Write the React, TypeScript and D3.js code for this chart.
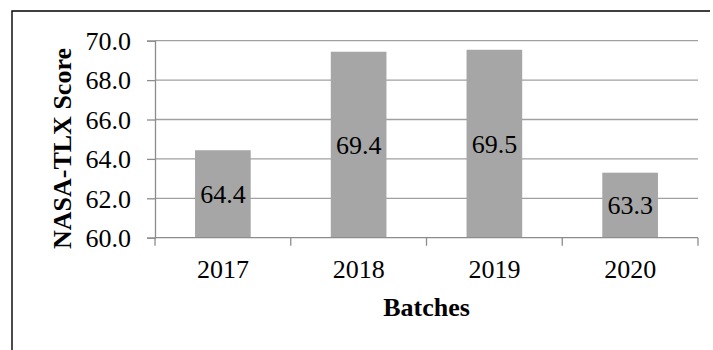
import React, { useEffect, useRef } from "react";
import * as d3 from "d3";

const categories = ["2017", "2018", "2019", "2020"];
const values = [64.44, 69.44, 69.54, 63.3];
const yTicks = [60, 62, 64, 66, 68, 70];
const yTitle = "NASA-TLX Score";
const xTitle = "Batches";

const W = 713;
const H = 350;
const FONT = "'Liberation Serif', 'Times New Roman', serif";

export default function App() {
  const ref = useRef<SVGSVGElement>(null);

  useEffect(() => {
    const svg = d3.select(ref.current);
    svg.selectAll("*").remove();

    const left = 155, right = 698, top = 40.7, bottom = 237.7;

    const x = d3.scaleBand<string>().domain(categories).range([left, right]).paddingInner(0.59).paddingOuter(0.295);
    const y = d3.scaleLinear().domain([60, 70]).range([bottom, top]);

    // outer frame (top and left edges)
    svg.append("path")
      .attr("d", `M12,350 L12,11 L710,11`)
      .attr("fill", "none")
      .attr("stroke", "#000")
      .attr("stroke-width", 1.4);

    // gridlines
    svg.append("g").selectAll("line")
      .data(yTicks.filter(t => t !== 60))
      .join("line")
      .attr("x1", left).attr("x2", right)
      .attr("y1", d => y(d)).attr("y2", d => y(d))
      .attr("stroke", "#a0a0a0").attr("stroke-width", 1.3);

    // bars
    svg.append("g").selectAll("rect")
      .data(values)
      .join("rect")
      .attr("x", (_, i) => x(categories[i])!)
      .attr("width", x.bandwidth())
      .attr("y", d => y(d))
      .attr("height", d => y(60) - y(d))
      .attr("fill", "#a6a6a6");

    // y axis
    const yAxis = d3.axisLeft(y).tickValues(yTicks).tickSize(8).tickPadding(16).tickFormat(d => (d as number).toFixed(1));
    const gy = svg.append("g").attr("transform", `translate(${left},0)`).call(yAxis);
    gy.attr("font-family", FONT).attr("font-size", 26);
    gy.select(".domain").attr("stroke", "#8c8c8c").attr("stroke-width", 1.3);
    gy.selectAll(".tick line").attr("stroke", "#8c8c8c").attr("stroke-width", 1.3);
    gy.selectAll(".tick text").attr("font-family", FONT).attr("font-size", 26).attr("fill", "#000").attr("dy", "0.34em");

    // x axis
    const gx = svg.append("g").attr("transform", `translate(0,${bottom})`);
    gx.append("line").attr("x1", left).attr("x2", right).attr("y1", 0).attr("y2", 0)
      .attr("stroke", "#8c8c8c").attr("stroke-width", 1.3);
    const boundaries = categories.map(c => x(c)! - (x.step() * x.paddingInner()) / 2).concat([right]);
    gx.selectAll("line.tk").data(boundaries).join("line").attr("class", "tk")
      .attr("x1", d => d).attr("x2", d => d).attr("y1", 0).attr("y2", 8)
      .attr("stroke", "#8c8c8c").attr("stroke-width", 1.3);
    gx.selectAll("text").data(categories).join("text")
      .attr("x", d => x(d)! + x.bandwidth() / 2)
      .attr("y", 40)
      .attr("text-anchor", "middle")
      .attr("font-family", FONT).attr("font-size", 26).attr("fill", "#000")
      .text(d => d);

    // data labels
    svg.append("g").selectAll("text")
      .data(values)
      .join("text")
      .attr("x", (_, i) => x(categories[i])! + x.bandwidth() / 2)
      .attr("y", d => (y(d) + y(60)) / 2)
      .attr("dy", "0.34em")
      .attr("text-anchor", "middle")
      .attr("font-family", FONT).attr("font-size", 26).attr("fill", "#000")
      .text(d => d.toFixed(1));

    // titles
    svg.append("text")
      .attr("x", (left + right) / 2).attr("y", 316)
      .attr("text-anchor", "middle")
      .attr("font-family", FONT).attr("font-size", 26).attr("font-weight", "bold")
      .text(xTitle);

    svg.append("text")
      .attr("transform", `translate(71,148.5) rotate(-90)`)
      .attr("text-anchor", "middle")
      .attr("font-family", FONT).attr("font-size", 26).attr("font-weight", "bold")
      .text(yTitle);
  }, []);

  return (
    <svg ref={ref} width={W} height={H} style={{ position: "absolute", left: 0, top: 0, background: "#fff" }} />
  );
}
